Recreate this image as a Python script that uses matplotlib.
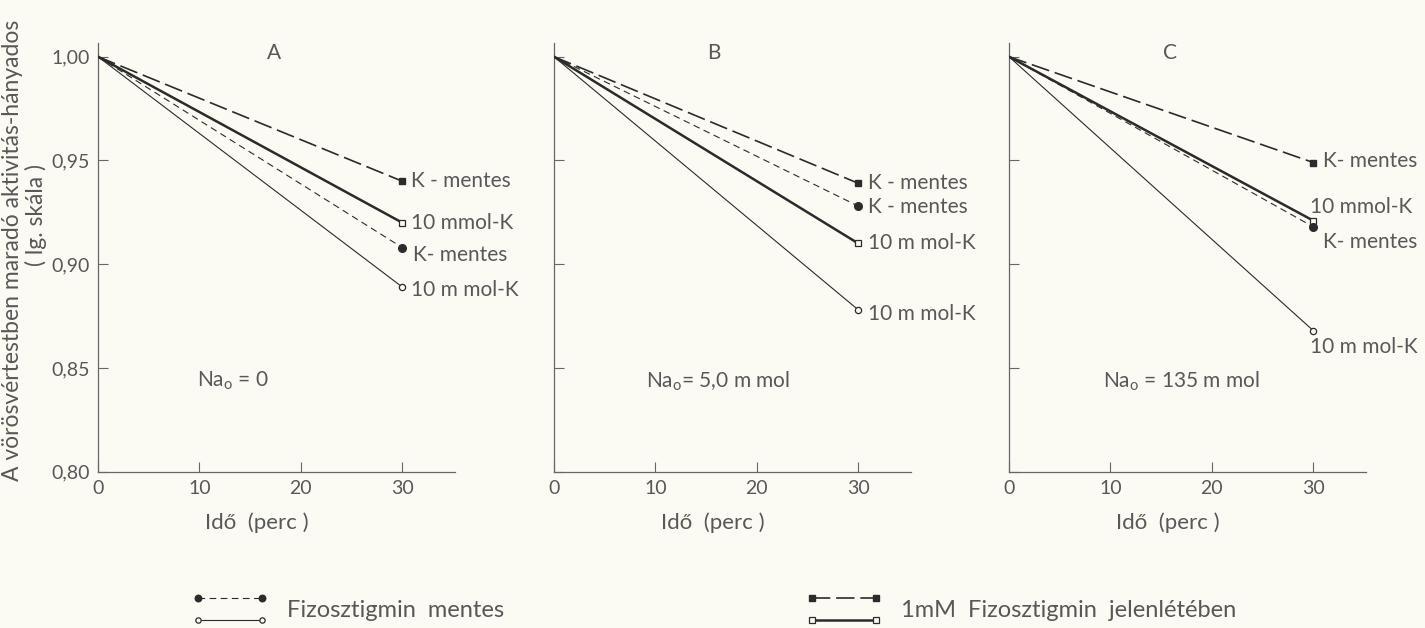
import numpy as np
import matplotlib.pyplot as plt
from matplotlib.lines import Line2D
from matplotlib.legend_handler import HandlerBase

plt.rcParams['font.family'] = ['Lato', 'DejaVu Sans']
plt.rcParams['font.weight'] = 'normal'
plt.rcParams['axes.labelweight'] = 'normal'
plt.rcParams['mathtext.fontset'] = 'custom'
plt.rcParams['mathtext.rm'] = 'Lato'

# data (values at t = 0 and t = 30 min)
time = [0, 30]
panels = ['A', 'B', 'C']
na_text = ['Na$_\\mathrm{o}$ = 0', 'Na$_\\mathrm{o}$= 5,0 m mol', 'Na$_\\mathrm{o}$ = 135 m mol']
phys_kfree = [0.940, 0.939, 0.949]     # 1mM fizosztigmin, K-mentes (filled square)
phys_k10 = [0.920, 0.910, 0.921]       # 1mM fizosztigmin, 10 mmol K (open square)
nophys_kfree = [0.908, 0.928, 0.918]   # fizosztigmin mentes, K-mentes (filled circle)
nophys_k10 = [0.889, 0.878, 0.868]     # fizosztigmin mentes, 10 mmol K (open circle)
yticks = [1.00, 0.95, 0.90, 0.85, 0.80]
ytick_labels = ['1,00', '0,95', '0,90', '0,85', '0,80']
xticks = [0, 10, 20, 30]

# end-label texts per panel, in series order: phys_kfree, phys_k10, nophys_kfree, nophys_k10
end_labels = [
    ['K - mentes', '10 mmol-K', 'K- mentes', '10 m mol-K'],
    ['K - mentes', '10 m mol-K', 'K - mentes', '10 m mol-K'],
    ['K- mentes', '10 mmol-K', 'K- mentes', '10 m mol-K'],
]
# label offsets from the end markers, in points
end_offsets = [
    [(6, 0), (6, 0), (8, -5), (6, -2)],
    [(7, 0), (7, 0), (7, -1), (7, -3)],
    [(7, 1), (-2, 10), (7, -11), (-2, -12)],
]

BG = '#fbfaf3'
INK = '#2b2b2b'
TXT = '#585858'
FS = 14

styles = [
    dict(color=INK, lw=1.2, dashes=(11, 3.5), marker='s', ms=4.5, mfc=INK, mec=INK),
    dict(color=INK, lw=1.8, ls='-', marker='s', ms=5, mfc=BG, mec=INK, mew=0.9),
    dict(color=INK, lw=0.8, dashes=(6, 4), marker='o', ms=5.5, mfc=INK, mec=INK),
    dict(color=INK, lw=0.8, ls='-', marker='o', ms=4.5, mfc=BG, mec=INK, mew=0.9),
]

fig = plt.figure(figsize=(14.25, 6.28), dpi=100, facecolor=BG)

W, H = 1425, 628
lefts = [98, 554, 1009]
ax_w = 357
ax_top, ax_bot = 43, 471.7

series = [phys_kfree, phys_k10, nophys_kfree, nophys_k10]
title_x = [17.4, 15.8, 15.9]
na_x = [9.8, 9.1, 9.3]

for i, name in enumerate(panels):
    ax = fig.add_axes([lefts[i] / W, (H - ax_bot) / H, ax_w / W, (ax_bot - ax_top) / H])
    ax.set_facecolor('none')
    for s, vals in enumerate(series):
        ax.plot(time, [1.0, vals[i]], markevery=[1], zorder=3, **styles[s])
        ax.annotate(end_labels[i][s], (time[1], vals[i]), xytext=end_offsets[i][s],
                    textcoords='offset points', ha='left', va='center',
                    fontsize=FS + 1, color=TXT)
    ax.set_xlim(0, 35.2)
    ax.set_ylim(0.80, 1.0066)
    ax.set_xticks(xticks)
    ax.set_yticks(yticks)
    if i == 0:
        ax.set_yticklabels(ytick_labels)
    else:
        ax.set_yticklabels([])
    ax.tick_params(direction='in', length=7, width=0.8, color='#666666',
                   labelsize=FS, labelcolor=TXT, pad=6)
    for sp in ['top', 'right']:
        ax.spines[sp].set_visible(False)
    for sp in ['left', 'bottom']:
        ax.spines[sp].set_color('#666666')
        ax.spines[sp].set_linewidth(0.9)
    ax.set_xlabel('Idő  (perc )', fontsize=FS + 2, color=TXT)
    ax.xaxis.set_label_coords(15.7 / 35.2, -0.095)
    ax.text(title_x[i], 1.002, name, ha='center', va='center', fontsize=FS + 1, color=TXT)
    ax.text(na_x[i], 0.8437, na_text[i], ha='left', va='center', fontsize=FS + 1, color=TXT)

fig.text(13 / W, (H - 250) / H, 'A vörösvértestben maradó aktivitás-hányados',
         rotation=90, ha='center', va='center', fontsize=FS + 2.5, color=TXT)
fig.text(36 / W, (H - 215) / H, '( lg. skála )',
         rotation=90, ha='center', va='center', fontsize=FS + 2.5, color=TXT)


class PairHandler(HandlerBase):
    def create_artists(self, legend, orig_handle, xdescent, ydescent,
                       width, height, fontsize, trans):
        arts = []
        for k, h in enumerate(orig_handle):
            y = -ydescent + height * (1 - k)
            ln = Line2D([-xdescent, -xdescent + width], [y, y])
            ln.update_from(h)
            ln.set_transform(trans)
            arts.append(ln)
        return arts


def proxy(st):
    st = dict(st)
    st['ms'] = st['ms'] * 0.85
    return Line2D([], [], **st)


LFS = 17
leg_kw = dict(loc='center left', frameon=False, borderpad=0, borderaxespad=0,
              handlelength=64 / (LFS * 1.389), handleheight=25 / (LFS * 1.389),
              handletextpad=25 / (LFS * 1.389), fontsize=LFS,
              labelcolor=TXT, handler_map={tuple: PairHandler()})
fig.legend(handles=[(proxy(styles[2]), proxy(styles[3]))], labels=['Fizosztigmin  mentes'],
           bbox_to_anchor=(198 / W, (H - 609.5) / H), **leg_kw)
fig.legend(handles=[(proxy(styles[0]), proxy(styles[1]))], labels=['1mM  Fizosztigmin  jelenlétében'],
           bbox_to_anchor=(812 / W, (H - 609.5) / H), **leg_kw)

fig.savefig('out.png', dpi=100, facecolor=BG)
